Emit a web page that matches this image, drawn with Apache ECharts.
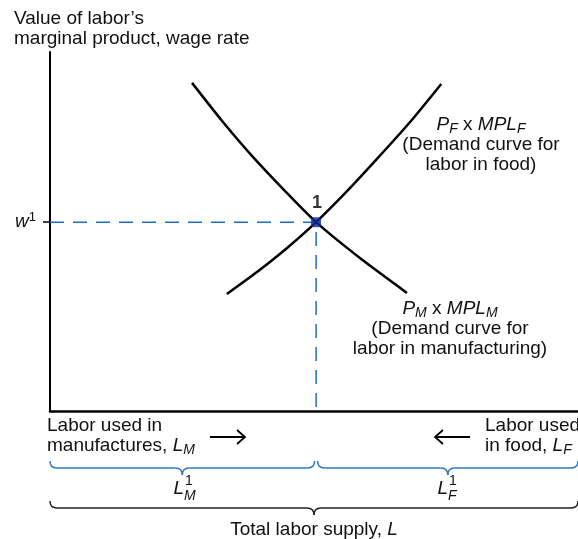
<!DOCTYPE html>
<html>
<head>
<meta charset="utf-8">
<script src="https://cdn.jsdelivr.net/npm/echarts@6/dist/echarts.min.js"></script>
<style>
  html, body { margin: 0; padding: 0; background: #fff; }
  #chart { width: 578px; height: 539px; }
</style>
</head>
<body>
<div id="chart"></div>
<script>
// total labor supply on x (manufacturing from the left, food from the right), wage on y
const laborMax = 100
const wageMax = 100
const mplM = [[26.9, 91.4], [32.6, 80.8], [38.3, 71.0], [44.3, 61.6], [50.4, 52.6], [58.7, 42.6], [67.6, 32.9]]
const mplF = [[33.5, 32.6], [39.2, 38.7], [44.9, 45.4], [50.4, 52.6], [56.3, 61.3], [62.1, 70.5], [68.2, 80.5], [74.1, 91.1]]
const equilibrium = [50.4, 52.6]
const wageTicks = [52.6]

const FONT = '"Liberation Sans", Arial, Helvetica, sans-serif'
const INK = '#111'
const GUIDE = '#1c6cc8'
const BRACE = '#2a78c8'

const rich = {
  n: { fontSize: 19, fontFamily: FONT, color: INK, lineHeight: 20 },
  i: { fontSize: 19, fontFamily: FONT, fontStyle: 'italic', color: INK, lineHeight: 20 },
  sub: { fontSize: 14, fontFamily: FONT, fontStyle: 'italic', color: INK, padding: [9, 0, 0, 0], lineHeight: 14 },
  sup: { fontSize: 13, fontFamily: FONT, color: INK, padding: [0, 0, 9, 0], lineHeight: 13 }
}

const chart = echarts.init(document.getElementById('chart'))

chart.setOption({
  animation: false,
  grid: { left: 50, right: 0, top: 52, bottom: 128 },
  xAxis: {
    type: 'value',
    min: 0,
    max: laborMax,
    axisLine: { show: true, onZero: false, lineStyle: { color: '#000', width: 2.5 } },
    axisTick: { show: false },
    axisLabel: { show: false },
    splitLine: { show: false }
  },
  yAxis: {
    type: 'value',
    min: 0,
    max: wageMax,
    axisLine: { show: true, onZero: false, lineStyle: { color: '#000', width: 2 } },
    axisTick: { show: true, customValues: wageTicks, length: 7, lineStyle: { color: '#000', width: 1.5 } },
    axisLabel: {
      show: true,
      customValues: wageTicks,
      margin: 14,
      formatter: () => '{i|w}{sup|1}',
      rich: rich
    },
    splitLine: { show: false }
  },
  series: [
    {
      // P_M x MPL_M
      type: 'line',
      data: mplM,
      smooth: 0.25,
      showSymbol: false,
      lineStyle: { color: '#000', width: 2.5 },
      z: 3
    },
    {
      // P_F x MPL_F
      type: 'line',
      data: mplF,
      smooth: 0.25,
      showSymbol: false,
      lineStyle: { color: '#000', width: 2.5 },
      z: 3
    },
    {
      // dashed guides to the axes
      type: 'line',
      data: [[0, equilibrium[1]], equilibrium, [equilibrium[0], 0]],
      showSymbol: false,
      lineStyle: { color: GUIDE, width: 1.5, type: [14, 9] },
      z: 2
    },
    {
      type: 'scatter',
      data: [equilibrium],
      symbol: 'roundRect',
      symbolSize: 10,
      itemStyle: { color: '#0b2a9a' },
      label: {
        show: true,
        position: 'top',
        distance: 5,
        offset: [1, 0],
        formatter: '1',
        fontSize: 18,
        fontWeight: 'bold',
        fontFamily: FONT,
        color: '#000'
      },
      z: 5
    }
  ]
})

// braces under the axis, placed from the axis scale
const x0 = chart.convertToPixel({ gridIndex: 0 }, [0, 0])
const xE = chart.convertToPixel({ gridIndex: 0 }, equilibrium)
const xM = chart.convertToPixel({ gridIndex: 0 }, [laborMax, 0])

function brace(x1, x2, y, h, color) {
  const m = (x1 + x2) / 2
  const r = 7
  const st = { stroke: color, lineWidth: 1.5, fill: null }
  return [
    { type: 'bezierCurve', shape: { x1: x1, y1: y - h, cpx1: x1, cpy1: y, x2: x1 + r, y2: y }, style: st },
    { type: 'line', shape: { x1: x1 + r, y1: y, x2: m - r, y2: y }, style: st },
    { type: 'bezierCurve', shape: { x1: m - r, y1: y, cpx1: m, cpy1: y, x2: m, y2: y + h }, style: st },
    { type: 'bezierCurve', shape: { x1: m, y1: y + h, cpx1: m, cpy1: y, x2: m + r, y2: y }, style: st },
    { type: 'line', shape: { x1: m + r, y1: y, x2: x2 - r, y2: y }, style: st },
    { type: 'bezierCurve', shape: { x1: x2 - r, y1: y, cpx1: x2, cpy1: y, x2: x2, y2: y - h }, style: st }
  ]
}

function txt(x, y, text, align, va) {
  return {
    type: 'text',
    style: {
      x: x, y: y, text: text, rich: rich,
      fontSize: 19, fontFamily: FONT, fill: INK,
      align: align || 'left', textAlign: align || 'left',
      verticalAlign: va || 'top', textVerticalAlign: va || 'top'
    }
  }
}

function arrow(xa, xb, y) {
  // head at xb
  const d = xb > xa ? -8 : 8
  const st = { stroke: '#000', lineWidth: 1.8, fill: null }
  return [
    { type: 'line', shape: { x1: xa, y1: y, x2: xb, y2: y }, style: st },
    { type: 'polyline', shape: { points: [[xb + d, y - 7], [xb, y], [xb + d, y + 7]] }, style: st }
  ]
}

function stackedL(x, y, sub) {
  return [
    txt(x, y, '{i|L}', 'right', 'middle'),
    { type: 'text', style: { x: x + 1, y: y - 8, text: '1', fontSize: 14, fontFamily: FONT, fill: INK, align: 'left', verticalAlign: 'middle' } },
    { type: 'text', style: { x: x, y: y + 7, text: sub, fontSize: 14, fontStyle: 'italic', fontFamily: FONT, fill: INK, align: 'left', verticalAlign: 'middle' } }
  ]
}

const midLeft = (x0[0] + xE[0]) / 2
const midRight = (xE[0] + xM[0]) / 2
const midAll = (x0[0] + xM[0]) / 2

const elements = [].concat(
  [txt(14, 9, '{n|Value of labor\u2019s}\n{n|marginal product, wage rate}')],
  [txt(481, 115, '{i|P}{sub|F}{n| x }{i|MPL}{sub|F}\n{n|(Demand curve for}\n{n|labor in food)}', 'center')],
  [txt(450, 299, '{i|P}{sub|M}{n| x }{i|MPL}{sub|M}\n{n|(Demand curve for}\n{n|labor in manufacturing)}', 'center')],
  [txt(47, 416, '{n|Labor used in}\n{n|manufactures, }{i|L}{sub|M}')],
  [txt(485, 416, '{n|Labor used}\n{n|in food, }{i|L}{sub|F}')],
  arrow(210, 245, 437),
  arrow(470, 435, 437),
  brace(x0[0], xE[0] - 1.5, 468, 7, BRACE),
  brace(xE[0] + 1.5, xM[0], 468, 7, BRACE),
  brace(x0[0], xM[0], 508, 7, '#222'),
  stackedL(midLeft + 1, 489, 'M'),
  stackedL(midRight + 1, 489, 'F'),
  [txt(midAll, 530, '{n|Total labor supply, }{i|L}', 'center', 'middle')]
)

chart.setOption({ graphic: { elements: elements } })
</script>
</body>
</html>
